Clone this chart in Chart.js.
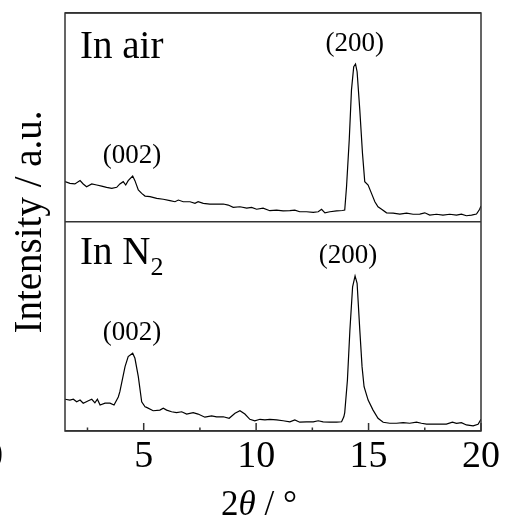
<!DOCTYPE html>
<html>
<head>
<meta charset="utf-8">
<script src="https://cdn.jsdelivr.net/npm/chart.js@4.4.1/dist/chart.umd.min.js"></script>
<style>
  html, body { margin: 0; padding: 0; background: #fff; }
  #wrap { width: 505px; height: 520px; }
</style>
</head>
<body>
<div id="wrap"><canvas id="xrd" width="505" height="520"></canvas></div>
<script>
// XRD patterns, 2θ in degrees, intensity in arbitrary units (0-100 per panel)
const airTwoTheta = [1.50,1.72,1.94,2.17,2.31,2.46,2.69,2.91,3.13,3.35,3.58,3.80,3.94,4.09,4.20,4.31,4.51,4.61,4.76,4.91,
  5.06,5.28,5.58,5.87,6.17,6.39,6.54,6.76,7.06,7.28,7.42,7.65,7.94,8.24,8.54,8.76,8.98,9.28,9.58,9.80,
  10.02,10.31,10.61,10.91,11.20,11.50,11.72,11.94,12.24,12.54,12.76,12.91,13.06,13.28,13.58,13.84,13.94,14.02,14.14,14.24,
  14.34,14.42,14.49,14.61,14.73,14.83,14.98,15.13,15.28,15.42,15.58,15.80,16.09,16.39,16.69,16.98,17.28,17.50,17.72,18.02,
  18.31,18.61,18.91,19.13,19.35,19.58,19.80,19.94,20.00];
const airIntensity = [19.3,18.5,18.2,19.8,18.2,16.9,18.2,17.7,17.2,16.6,16.1,16.6,18.2,19.3,17.7,19.8,22.0,19.8,15.3,13.7,
  12.4,12.1,11.3,10.9,10.2,9.7,10.5,9.7,9.7,8.9,9.7,8.9,8.6,8.6,8.6,8.1,7.0,7.3,6.6,7.0,
  6.1,6.6,5.4,5.7,5.3,5.4,5.7,4.9,4.9,4.6,4.9,6.1,4.4,4.9,5.3,5.5,5.7,16.9,39.2,63.2,
  74.3,75.6,71.9,53.6,32.8,19.3,17.7,13.7,9.7,7.3,6.1,4.4,4.2,3.8,4.2,3.7,3.8,4.4,3.3,3.7,
  3.3,3.7,3.3,3.8,3.0,3.3,3.8,6.1,7.7];

const n2TwoTheta = [1.50,1.72,1.87,2.02,2.17,2.31,2.54,2.69,2.83,2.94,3.06,3.28,3.50,3.68,3.87,3.94,4.17,4.31,4.51,4.61,
  4.76,4.91,5.06,5.13,5.42,5.72,5.87,6.02,6.24,6.46,6.69,6.91,7.20,7.42,7.72,8.02,8.24,8.54,8.80,9.06,
  9.28,9.50,9.72,9.94,10.17,10.39,10.61,10.91,11.20,11.50,11.72,11.94,12.24,12.54,12.76,12.98,13.28,13.58,13.80,13.90,
  13.94,14.06,14.17,14.29,14.40,14.49,14.61,14.71,14.80,14.98,15.20,15.42,15.65,15.94,16.24,16.54,16.83,17.13,17.35,17.58,
  17.87,18.17,18.46,18.73,18.91,19.13,19.35,19.65,19.87,20.00];
const n2Intensity = [15.2,14.8,15.2,14.0,14.8,13.3,14.5,15.2,13.5,15.2,12.4,13.3,13.3,12.4,16.3,18.8,30.8,35.6,37.2,34.8,
  26.0,14.0,11.6,11.3,9.7,10.0,10.9,10.0,9.2,8.8,9.2,8.1,8.8,8.1,6.6,7.2,6.8,6.8,6.1,8.5,
  9.7,8.1,5.6,4.9,5.6,5.3,5.6,5.3,4.9,4.4,5.3,4.2,4.4,4.4,4.9,4.4,4.2,4.2,4.4,6.8,
  8.8,24.4,48.3,69.0,74.2,70.7,48.3,30.8,21.2,14.8,10.0,6.1,4.2,3.7,3.7,4.0,3.7,4.2,3.7,3.3,
  3.3,3.3,3.3,4.2,3.7,4.0,2.9,2.5,3.2,5.6];

// Axis ticks
const xMajorTicks = [5, 10, 15, 20];
const xMinorTicks = [2.5, 7.5, 12.5, 17.5];

// Panel captions and reflection labels
const airCaption = 'In air';
const n2Caption = ['In N', '2'];
const airPeakNames = ['(002)', '(200)'];
const airPeakTheta = [4.48, 14.39];
const n2PeakNames = ['(002)', '(200)'];
const n2PeakTheta = [4.48, 14.08];

// The upper panel sits on top of the lower one on a shared 0-200 axis
const PANEL = 100;
const SERIF = '"Liberation Serif", "Times New Roman", serif';

const toPoints = (xs, ys, shift) => xs.map((x, i) => ({ x: x, y: ys[i] + shift }));

const decorations = {
  id: 'decorations',
  afterDraw(chart) {
    const ctx = chart.ctx;
    const area = chart.chartArea;
    const xs = chart.scales.x;
    const ys = chart.scales.y;
    ctx.save();

    // frame
    ctx.strokeStyle = '#333';
    ctx.lineWidth = 1.5;
    ctx.strokeRect(area.left, area.top, area.right - area.left, area.bottom - area.top);

    // inward tick marks on the bottom axis
    ctx.beginPath();
    xMajorTicks.forEach(v => {
      const px = xs.getPixelForValue(v);
      ctx.moveTo(px, area.bottom);
      ctx.lineTo(px, area.bottom - 8);
    });
    xMinorTicks.forEach(v => {
      const px = xs.getPixelForValue(v);
      ctx.moveTo(px, area.bottom);
      ctx.lineTo(px, area.bottom - 3.5);
    });
    ctx.stroke();

    ctx.fillStyle = '#000';

    // panel captions
    ctx.textAlign = 'left';
    ctx.textBaseline = 'alphabetic';
    ctx.font = '39px ' + SERIF;
    ctx.fillText(airCaption, area.left + 15, ys.getPixelForValue(2 * PANEL) + 45);
    const n2Base = ys.getPixelForValue(PANEL) + 42;
    ctx.fillText(n2Caption[0], area.left + 15, n2Base);
    const nW = ctx.measureText(n2Caption[0]).width;
    ctx.font = '26px ' + SERIF;
    ctx.fillText(n2Caption[1], area.left + 15 + nW, n2Base + 11);

    // reflection labels above each peak
    ctx.font = '27px ' + SERIF;
    ctx.textAlign = 'center';
    ctx.textBaseline = 'middle';
    const labelPeaks = (names, thetas, xsArr, ysArr, shift) => {
      names.forEach((name, k) => {
        let top = -Infinity;
        xsArr.forEach((x, i) => {
          if (Math.abs(x - thetas[k]) < 0.4) top = Math.max(top, ysArr[i]);
        });
        ctx.fillText(name, xs.getPixelForValue(thetas[k]), ys.getPixelForValue(top + shift) - 20);
      });
    };
    labelPeaks(airPeakNames, airPeakTheta, airTwoTheta, airIntensity, PANEL);
    labelPeaks(n2PeakNames, n2PeakTheta, n2TwoTheta, n2Intensity, 0);

    // x-axis title: 2θ / °
    const parts = [
      { t: '2', f: '35px ' + SERIF },
      { t: '\u03B8', f: 'italic 35px ' + SERIF },
      { t: ' / \u00B0', f: '35px ' + SERIF }
    ];
    let total = 0;
    parts.forEach(p => { ctx.font = p.f; p.w = ctx.measureText(p.t).width; total += p.w; });
    let cx = (area.left + area.right) / 2 - 14 - total / 2;
    ctx.textAlign = 'left';
    ctx.textBaseline = 'alphabetic';
    parts.forEach(p => { ctx.font = p.f; ctx.fillText(p.t, cx, 515); cx += p.w; });

    // tick label edge at the far left
    ctx.font = '38px ' + SERIF;
    ctx.textAlign = 'right';
    ctx.textBaseline = 'middle';
    ctx.fillText('0', 3, 457);

    ctx.restore();
  }
};

new Chart(document.getElementById('xrd'), {
  type: 'line',
  data: {
    datasets: [
      {
        label: 'In air',
        data: toPoints(airTwoTheta, airIntensity, PANEL),
        borderColor: '#000',
        borderWidth: 1.2,
        pointRadius: 0,
        tension: 0,
        fill: false
      },
      {
        label: 'In N2',
        data: toPoints(n2TwoTheta, n2Intensity, 0),
        borderColor: '#000',
        borderWidth: 1.2,
        pointRadius: 0,
        tension: 0,
        fill: false
      }
    ]
  },
  options: {
    responsive: false,
    animation: false,
    devicePixelRatio: 1,
    layout: { padding: { top: 13, right: 24, left: 0, bottom: 0 } },
    plugins: { legend: { display: false }, tooltip: { enabled: false } },
    scales: {
      x: {
        type: 'linear',
        min: 1.5,
        max: 20,
        afterBuildTicks: scale => { scale.ticks = xMajorTicks.map(v => ({ value: v })); },
        afterFit: scale => { scale.height = 89; },
        grid: { display: false, drawTicks: false },
        border: { display: false },
        ticks: {
          color: '#000',
          padding: 3,
          maxRotation: 0,
          font: { family: SERIF, size: 38 },
          callback: v => String(v)
        }
      },
      y: {
        type: 'linear',
        min: 0,
        max: 2 * PANEL,
        afterBuildTicks: scale => { scale.ticks = [0, PANEL, 2 * PANEL].map(v => ({ value: v })); },
        afterFit: scale => { scale.width = 65; },
        grid: { color: '#333', lineWidth: 1.5, drawTicks: false },
        border: { display: false },
        ticks: { display: false },
        title: {
          display: true,
          text: 'Intensity / a.u.',
          color: '#000',
          font: { family: SERIF, size: 39 },
          padding: { top: 7, bottom: 0 }
        }
      }
    }
  },
  plugins: [decorations]
});
</script>
</body>
</html>
